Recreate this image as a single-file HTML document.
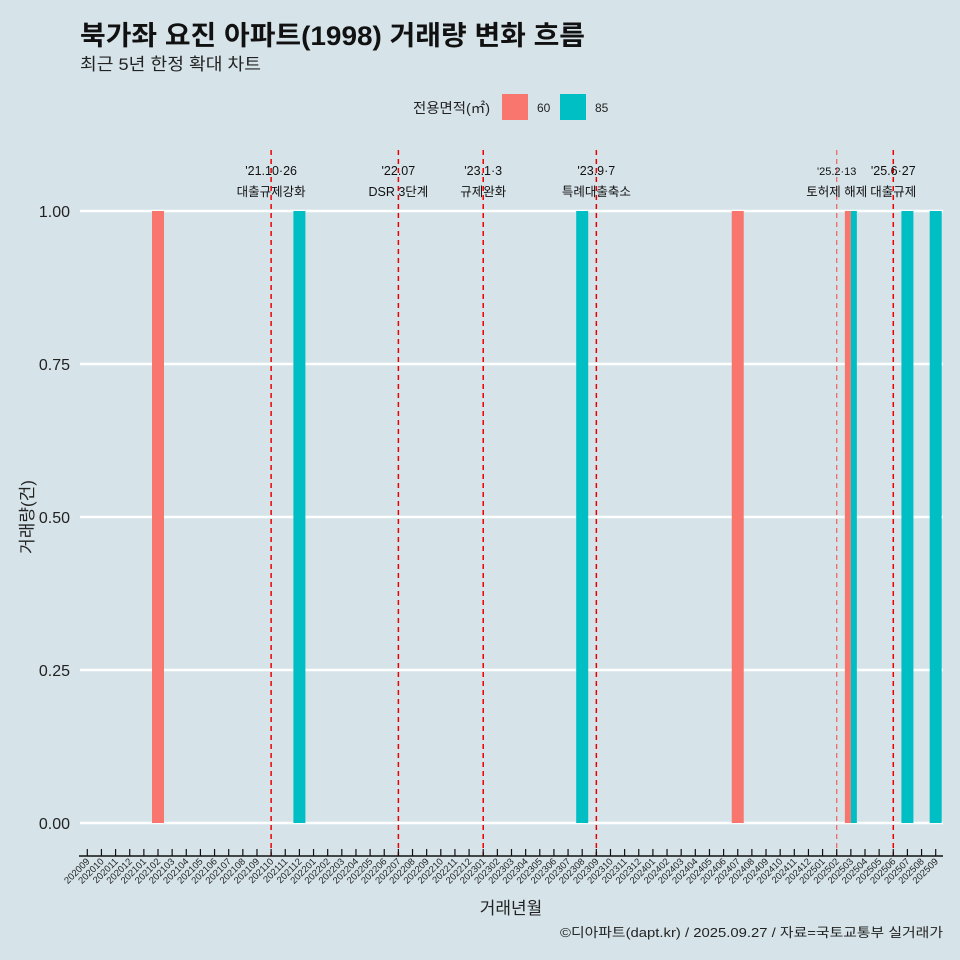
<!DOCTYPE html>
<html><head><meta charset="utf-8">
<style>
body{margin:0;background:#d6e4ea;}
svg{display:block;font-family:"Liberation Sans","Noto Sans CJK KR",sans-serif;}
</style></head>
<body>
<svg id="chart" width="960" height="960" viewBox="0 0 960 960">
<rect width="960" height="960" fill="#d6e4ea"/>
<text x="80" y="45" font-size="27" font-weight="bold" fill="#111" textLength="505" lengthAdjust="spacingAndGlyphs">북가좌 요진 아파트(1998) 거래량 변화 흐름</text>
<text x="80" y="70" font-size="17" fill="#222" textLength="181" lengthAdjust="spacingAndGlyphs">최근 5년 한정 확대 차트</text>
<g>
<text x="413" y="113" font-size="14" fill="#222" textLength="77" lengthAdjust="spacingAndGlyphs">전용면적(㎡)</text>
<rect x="502" y="94" width="26" height="26" fill="#f8766d"/>
<text x="537" y="112" font-size="12" fill="#222">60</text>
<rect x="560" y="94" width="26" height="26" fill="#00bfc4"/>
<text x="595" y="112" font-size="12" fill="#222">85</text>
</g>
<g id="grid"></g><g id="bars"></g><g id="vlines"></g><g id="xaxis"></g><g id="yaxis"></g>
<text transform="translate(33,517) rotate(-90)" text-anchor="middle" font-size="17" fill="#222">거래량(건)</text>
<text x="511" y="914" text-anchor="middle" font-size="17" fill="#222">거래년월</text>
<text x="560" y="937" font-size="13" fill="#222" textLength="383" lengthAdjust="spacingAndGlyphs">©디아파트(dapt.kr) / 2025.09.27 / 자료=국토교통부 실거래가</text>
</svg>
<script>
const categories=[];
for(let y=2020;y<=2025;y++){for(let m=1;m<=12;m++){const c=y*100+m;if(c>=202009&&c<=202509)categories.push(String(c));}}
const series60=[["202102",1],["202407",1],["202503",1]];
const series85=[["202112",1],["202308",1],["202503",1],["202507",1],["202509",1]];
const events=["202110","202207","202301","202309","202502","202506"];
const eventDates=["'21.10·26","'22.07","'23.1·3","'23.9·7","'25.2·13","'25.6·27"];
const eventLabels=["대출규제강화","DSR 3단계","규제완화","특례대출축소","토허제 해제","대출규제"];
const yTicks=[0,0.25,0.5,0.75,1];
const yTickLabels=["0.00","0.25","0.50","0.75","1.00"];

const NS="http://www.w3.org/2000/svg";
const X0=87.3,STEP=14.14,Y0=823,Y1=211;
const xs=c=>X0+categories.indexOf(c)*STEP;
const ys=v=>Y0+(Y1-Y0)*v;
function mk(tag,attrs,parent){const e=document.createElementNS(NS,tag);for(const k in attrs)e.setAttribute(k,attrs[k]);document.getElementById(parent).appendChild(e);return e;}

yTicks.forEach((v,i)=>{
 const l=mk("line",{x1:80,x2:943,y1:ys(v),y2:ys(v),stroke:"#fff","stroke-width":2.5},"grid");
 
 
 const t=mk("text",{x:70,y:ys(v)+6,"text-anchor":"end","font-size":16,fill:"#222"},"yaxis");
 t.textContent=yTickLabels[i];
 
 
});

const BW=12;
function both(c){return series60.some(d=>d[0]===c)&&series85.some(d=>d[0]===c);}
series60.forEach(d=>{
 const cx=xs(d[0]);const w=both(d[0])?BW/2:BW;const x=cx-BW/2;
 const r=mk("rect",{x:x,y:ys(d[1]),width:w,height:ys(0)-ys(d[1]),fill:"#f8766d"},"bars");
 
 
});
series85.forEach(d=>{
 const cx=xs(d[0]);const w=both(d[0])?BW/2:BW;const x=both(d[0])?cx:cx-BW/2;
 const r=mk("rect",{x:x,y:ys(d[1]),width:w,height:ys(0)-ys(d[1]),fill:"#00bfc4"},"bars");
 
 
});

events.forEach((c,i)=>{
 const x=xs(c);const light=c==="202502";
 const l=mk("line",{x1:x,x2:x,y1:150,y2:856,stroke:light?"#f06060":"#ee0000","stroke-width":light?1.2:1.5,"stroke-dasharray":"5,4"},"vlines");
 
 
 const t1=mk("text",{x:x,y:175,"text-anchor":"middle","font-size":light?11:12.5,fill:"#111"},"vlines");
 t1.textContent=eventDates[i];
 
 
 const t2=mk("text",{x:x,y:196,"text-anchor":"middle","font-size":12.5,fill:"#111"},"vlines");
 t2.textContent=eventLabels[i];
 
 
});

const ax=mk("line",{x1:79,x2:943,y1:856,y2:856,stroke:"#111","stroke-width":1.5},"xaxis");


categories.forEach(c=>{
 const x=xs(c);
 const tk=mk("line",{x1:x,x2:x,y1:849,y2:856,stroke:"#111","stroke-width":1.2},"xaxis");
 
 
 const t=mk("text",{transform:`translate(${x+3},${862}) rotate(-45)`,"text-anchor":"end","font-size":9.5,fill:"#222"},"xaxis");
 t.textContent=c;
 
 
});
</script>
</body></html>
